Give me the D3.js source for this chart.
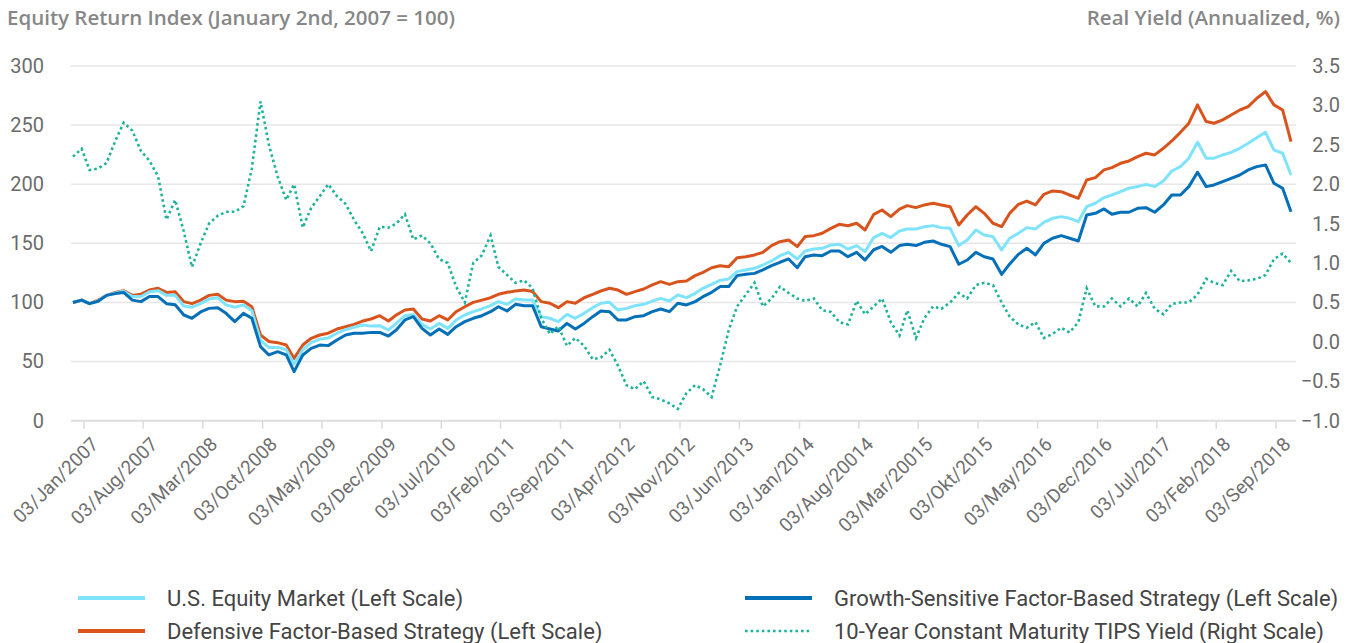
<!DOCTYPE html>
<html>
<head>
<meta charset="utf-8">
<script src="https://cdn.jsdelivr.net/npm/d3@7"></script>
<style>
  html, body { margin: 0; padding: 0; background: #fff; }
</style>
</head>
<body>
<div id="app"></div>
<script>
// monthly readings, Jan 2007 .. Dec 2018
const firstMonth = new Date(2007, 0, 2);

const usEquityMarket = [
  100, 102, 99, 101.5, 106, 108, 109.5, 105, 105, 109, 110, 106, 106, 97, 96, 99, 103, 104, 98, 96, 98, 93, 68, 62, 62, 60, 48, 60, 66, 69, 70, 74, 77, 79, 81, 80,
  80.4, 76.7, 82.3, 88.8, 89.9, 81.5, 77.6, 82.3, 78.1, 85.2, 89.4, 92.2, 94.5, 97.3, 100.7, 98.4, 102.9, 102, 102, 88, 86.6, 83.8, 89.9, 86.6, 90.8, 95.6, 99.3, 100.1, 93.6, 95, 97.3, 98.4, 101.2, 103.5, 101.2, 106.3,
  104.1, 107.7, 112, 115.3, 118.7, 119.9, 126.1, 127.5, 128.9, 131.7, 135.1, 139.6, 142.4, 136.8, 143.5, 145.2, 145.8, 148.6, 149.2, 145.2, 148.1, 143, 154.9, 158.5, 154.9, 160.5, 162.2, 162.2, 164.1, 165, 163.3, 162.7, 148.1, 152.8, 161.3, 157.1,
  155.7, 144.4, 154.3, 158.5, 163.3, 162.2, 167.8, 171.2, 172.6, 171.2, 168.4, 181, 183.9, 188.7, 190.9, 193.7, 196.6, 198, 199.9, 198, 202.8, 211.2, 214.9, 222, 235.5, 222, 222, 224.8, 227, 230.4, 234.6, 239.4, 243.9, 229, 226.2, 207.8
];

const defensiveStrategy = [
  100, 102, 99, 102, 106, 108.5, 110, 106, 107, 110.5, 112, 108.5, 109, 100.7, 99, 102, 106, 107, 102, 100.7, 101, 96.4, 72.5, 67, 66, 64, 52.7, 64, 69.7, 72.5, 74, 77.5, 79.5, 81.5, 84.3, 86,
  88.8, 84.3, 89.4, 93.6, 94.5, 86, 84.3, 88.8, 85.2, 92.2, 96.4, 100.1, 102, 104, 106.9, 108.6, 109.7, 110.5, 109.2, 100.7, 99.3, 95.6, 100.7, 99.3, 104, 106.9, 109.7, 112, 110.5, 106.9, 109.2, 111.4, 114.8, 117.6, 115.3, 117.6,
  118.2, 122.7, 125.5, 129.4, 131.1, 130.3, 137.9, 138.7, 140.2, 142.4, 148.1, 151.4, 152.8, 147.2, 155.7, 156.5, 158.5, 162.7, 166.1, 164.9, 167, 161.3, 174.5, 178.2, 172.6, 179, 181.9, 180.2, 182.5, 183.9, 182.5, 181, 165.5, 174, 181, 175.4,
  167, 164.1, 175.4, 183, 185.8, 182.5, 191.5, 194.3, 193.7, 190.9, 188.1, 203.6, 205.6, 212.1, 214, 217.7, 219.7, 223.3, 226.2, 224.8, 230.4, 236.6, 243.9, 251.6, 267.1, 253, 251.6, 254.4, 258.6, 262.8, 265.6, 272.7, 278.3, 267.1, 262.8, 236
];

const growthStrategy = [
  100, 102, 99, 101, 106, 107.5, 108.5, 102, 100.7, 105, 105, 99, 98, 89.4, 86.6, 92, 95, 95.6, 90.8, 83.8, 90.8, 86.6, 62.6, 55.6, 58.4, 55.6, 41.5, 55.6, 61.2, 64, 63.5, 68.2, 72.5, 74, 74, 74.7,
  74.7, 71.6, 76.7, 85.2, 88, 78.1, 72.5, 77.6, 73, 79.5, 83.8, 86.6, 88.8, 92.2, 96.4, 92.8, 98.4, 97.3, 97.3, 79.5, 77.6, 75.9, 82.3, 77.6, 82.3, 88, 92.8, 92.2, 85.2, 85.2, 88, 88.8, 92.2, 94.5, 92.2, 99.3,
  97.9, 100.7, 104.9, 108.6, 113.4, 113.4, 122.7, 123.8, 124.6, 127.5, 131.1, 134, 136.8, 129.4, 138.7, 140.2, 139.6, 143.5, 143.5, 138.7, 142.4, 135.9, 144.6, 147.4, 142.4, 148.1, 149.2, 148.1, 150.9, 152, 149.2, 147.2, 132.3, 135.9, 142.4, 138.7,
  136.8, 123.8, 132.6, 140.7, 145.8, 140.2, 150, 154.3, 156.5, 154.3, 152, 174, 175.4, 179.1, 174.6, 176.3, 176.3, 179.6, 180.2, 176.3, 182.5, 190.9, 190.9, 198, 210.1, 198, 199.4, 202.2, 205, 207.8, 212.1, 214.9, 216.3, 200.8, 196.6, 176.8
];

const tipsYield = [
  2.35, 2.45, 2.18, 2.2, 2.27, 2.55, 2.78, 2.68, 2.42, 2.3, 2.1, 1.55, 1.8, 1.4, 0.95, 1.25, 1.5, 1.6, 1.65, 1.65, 1.72, 2.2, 3.05, 2.5, 2.1, 1.8, 2.0, 1.45, 1.7, 1.85, 2.0, 1.85, 1.75, 1.55, 1.38, 1.15,
  1.46, 1.45, 1.5, 1.62, 1.3, 1.35, 1.25, 1.05, 1.0, 0.7, 0.5, 1.0, 1.1, 1.35, 0.95, 0.85, 0.75, 0.78, 0.68, 0.3, 0.1, 0.2, -0.05, 0.05, -0.05, -0.22, -0.2, -0.1, -0.3, -0.55, -0.6, -0.5, -0.7, -0.73, -0.78, -0.85,
  -0.65, -0.55, -0.6, -0.7, -0.3, 0.15, 0.45, 0.6, 0.75, 0.45, 0.55, 0.7, 0.62, 0.55, 0.52, 0.55, 0.4, 0.38, 0.25, 0.22, 0.52, 0.35, 0.45, 0.55, 0.25, 0.08, 0.4, 0.05, 0.3, 0.45, 0.42, 0.5, 0.62, 0.55, 0.72, 0.75,
  0.72, 0.5, 0.32, 0.22, 0.18, 0.25, 0.05, 0.1, 0.18, 0.12, 0.25, 0.68, 0.45, 0.45, 0.55, 0.45, 0.55, 0.45, 0.62, 0.42, 0.35, 0.48, 0.5, 0.5, 0.6, 0.8, 0.75, 0.72, 0.9, 0.77, 0.78, 0.8, 0.85, 1.05, 1.12, 1.0
];

const leftTicks = [0, 50, 100, 150, 200, 250, 300];
const rightTicks = [-1.0, -0.5, 0.0, 0.5, 1.0, 1.5, 2.0, 2.5, 3.0, 3.5];

// labels exactly as printed in the source (typos included)
const tickLabels = [
  '03/Jan/2007', '03/Aug/2007', '03/Mar/2008', '03/Oct/2008', '03/May/2009', '03/Dec/2009',
  '03/Jul/2010', '03/Feb/2011', '03/Sep/2011', '03/Apr/2012', '03/Nov/2012', '03/Jun/2013',
  '03/Jan/2014', '03/Aug/20014', '03/Mar/20015', '03/Okt/2015', '03/May/2016', '03/Dec/2016',
  '03/Jul/2017', '03/Feb/2018', '03/Sep/2018'
];

const legendItems = [
  { name: 'U.S. Equity Market (Left Scale)', color: '#7fe4fb', dotted: false },
  { name: 'Growth-Sensitive Factor-Based Strategy (Left Scale)', color: '#0570b8', dotted: false },
  { name: 'Defensive Factor-Based Strategy (Left Scale)', color: '#d9541d', dotted: false },
  { name: '10-Year Constant Maturity TIPS Yield (Right Scale)', color: '#1cb39b', dotted: true }
];

const width = 1356;
const height = 643;
const plot = { left: 71, right: 1296, top: 66, bottom: 420.7 };

let svg = d3.select('#app').append('svg')
    .attr('width', width)
    .attr('height', height)
    .style('font-family', 'Roboto, sans-serif');

svg.append('rect').attr('width', width).attr('height', height).attr('fill', '#fff');

let dates = d3.range(tipsYield.length).map(i => d3.timeMonth.offset(firstMonth, i));

let xScale = d3.scaleTime()
    .domain([dates[0], dates[dates.length - 1]])
    .range([73, 1291]);

let yLeft = d3.scaleLinear().domain([0, 300]).range([plot.bottom, plot.top]);
let yRight = d3.scaleLinear().domain([-1, 3.5]).range([plot.bottom, plot.top]);

// tick labels sit a little right of the month they name, like in the original
let tickDates = tickLabels.map((d, i) => d3.timeMonth.offset(new Date(2007, 1, 8), 7 * i));

// gridlines
svg.append('g')
    .selectAll('line')
    .data(leftTicks)
    .join('line')
    .attr('x1', plot.left)
    .attr('x2', plot.right)
    .attr('y1', d => yLeft(d))
    .attr('y2', d => yLeft(d))
    .attr('stroke', d => d === 0 ? '#dedede' : '#e6e6e6')
    .attr('stroke-width', d => d === 0 ? 2 : 1.5);

// left axis labels
let leftAxis = svg.append('g')
    .attr('transform', 'translate(44,0)')
    .call(d3.axisLeft(yLeft).tickValues(leftTicks).tickSize(0).tickPadding(0));
leftAxis.select('.domain').remove();
leftAxis.selectAll('text')
    .attr('fill', '#6b6b6b')
    .style('font-size', '20px')
    .style('font-family', 'Roboto, sans-serif');

// right axis labels
let rightAxis = svg.append('g')
    .attr('transform', 'translate(1340,0)')
    .call(d3.axisRight(yRight).tickValues(rightTicks).tickFormat(d3.format('.1f')).tickSize(0).tickPadding(0));
rightAxis.select('.domain').remove();
rightAxis.selectAll('text')
    .attr('text-anchor', 'end')
    .attr('fill', '#6b6b6b')
    .style('font-size', '20px')
    .style('font-family', 'Roboto, sans-serif');

// x axis
let xAxis = svg.append('g')
    .attr('transform', `translate(0,${plot.bottom})`)
    .call(d3.axisBottom(xScale).tickValues(tickDates).tickFormat((d, i) => tickLabels[i]).tickSize(8));
xAxis.select('.domain').remove();
xAxis.selectAll('.tick line').attr('stroke', '#dcdcdc').attr('stroke-width', 1.5);
xAxis.selectAll('text')
    .attr('x', 0)
    .attr('y', 0)
    .attr('dy', '0.35em')
    .attr('text-anchor', 'end')
    .attr('transform', 'translate(11,20) rotate(-45)')
    .attr('fill', '#707070')
    .style('font-size', '19px')
    .style('font-family', 'Roboto, sans-serif');

// series
const lineLeft = d3.line()
    .x((d, i) => xScale(dates[i]))
    .y(d => yLeft(d));
const lineRight = d3.line()
    .x((d, i) => xScale(dates[i]))
    .y(d => yRight(d));

svg.append('path')
    .datum(defensiveStrategy)
    .attr('d', lineLeft)
    .attr('fill', 'none')
    .attr('stroke', legendItems[2].color)
    .attr('stroke-width', 3)
    .attr('stroke-linejoin', 'round');

svg.append('path')
    .datum(usEquityMarket)
    .attr('d', lineLeft)
    .attr('fill', 'none')
    .attr('stroke', legendItems[0].color)
    .attr('stroke-width', 3)
    .attr('stroke-linejoin', 'round');

svg.append('path')
    .datum(growthStrategy)
    .attr('d', lineLeft)
    .attr('fill', 'none')
    .attr('stroke', legendItems[1].color)
    .attr('stroke-width', 3)
    .attr('stroke-linejoin', 'round');

svg.append('path')
    .datum(tipsYield)
    .attr('d', lineRight)
    .attr('fill', 'none')
    .attr('stroke', legendItems[3].color)
    .attr('stroke-width', 2.6)
    .attr('stroke-dasharray', '2.6 3');

// axis titles
svg.append('text')
    .attr('x', 7)
    .attr('y', 25)
    .attr('fill', '#878787')
    .style('font-family', "'Open Sans', sans-serif")
    .style('font-size', '20.5px')
    .style('font-weight', 600)
    .text('Equity Return Index (January 2nd, 2007 = 100)');

svg.append('text')
    .attr('x', 1340)
    .attr('y', 25)
    .attr('text-anchor', 'end')
    .attr('fill', '#878787')
    .style('font-family', "'Open Sans', sans-serif")
    .style('font-size', '20.5px')
    .style('font-weight', 600)
    .text('Real Yield (Annualized, %)');

// legend
const legendCols = [78, 745];
const legendRows = [598, 631];
let legend = svg.append('g')
    .selectAll('g')
    .data(legendItems)
    .join('g')
    .attr('transform', (d, i) => `translate(${legendCols[i % 2]},${legendRows[Math.floor(i / 2)]})`);

legend.append('line')
    .attr('x1', 0)
    .attr('x2', 67)
    .attr('stroke', d => d.color)
    .attr('stroke-width', d => d.dotted ? 2.6 : 4)
    .attr('stroke-dasharray', d => d.dotted ? '2.6 3' : null);

legend.append('text')
    .attr('x', 89)
    .attr('dy', '0.35em')
    .attr('fill', '#444')
    .style('font-size', '22px')
    .text(d => d.name);
</script>
</body>
</html>
